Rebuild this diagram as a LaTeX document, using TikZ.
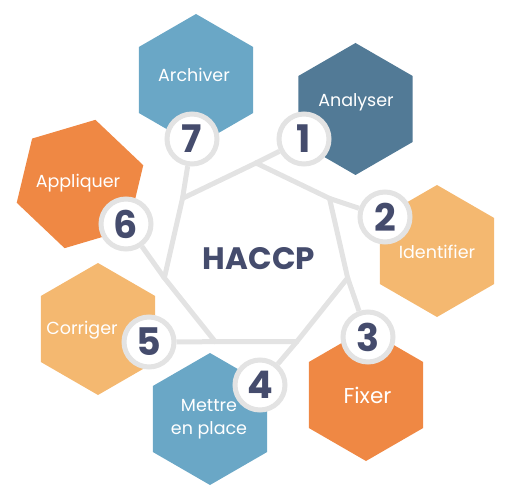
\documentclass[tikz,border=0pt]{standalone}
\usepackage{fontspec}
\setmainfont{Poppins}
\usetikzlibrary{shapes.geometric}

\definecolor{hblue}{HTML}{6AA7C6}
\definecolor{hdark}{HTML}{527A96}
\definecolor{hsand}{HTML}{F4B870}
\definecolor{horange}{HTML}{EF8844}
\definecolor{hnavy}{HTML}{454C6D}
\definecolor{hgray}{HTML}{E3E3E3}

\tikzset{
  hexa/.style={regular polygon, regular polygon sides=6, shape border rotate=30,
    minimum size=132pt, inner sep=0pt, draw=none, fill=#1},
  stepnum/.style={circle, draw=hgray, line width=5pt, fill=white,
    minimum size=50pt, inner sep=0pt, text=hnavy,
    font=\fontsize{38}{38}\selectfont\bfseries},
  lbl/.style={text=white, font=\fontsize{17.5}{23.3}\selectfont, anchor=base, align=center},
  spoke/.style={draw=hgray, line width=5pt}
}

\begin{document}
\begin{tikzpicture}[x=1pt,y=1pt]
\useasboundingbox (-256,-243) rectangle (260,257);

% hexagons
\node[hexa=hblue] at (-60,177) (hArch) {};
\node[hexa=hdark] at (99.5,148) (hAnal) {};
\node[hexa=hsand] at (181,6) (hIden) {};
\node[hexa=horange] at (110,-138) (hFix) {};
\node[hexa=hblue] at (-46,-162) (hMett) {};
\node[hexa=hsand] at (-158,-72) (hCorr) {};
\node[hexa=horange, shape border rotate=16.5] at (-176,73) (hAppl) {};

% heptagon
\foreach \i in {0,...,6}
  \coordinate (v\i) at ({90-\i*360/7}:94);
\path[spoke] (v0) -- (v1) -- (v2) -- (v3) -- (v4) -- (v5) -- (v6) -- cycle;

% numbered circles
\node[stepnum] at (48,118) (n1) {1};
\node[stepnum] at (129,40) (n2) {2};
\node[stepnum] at (112,-80) (n3) {3};
\node[stepnum] at (4,-128) (n4) {4};
\node[stepnum] at (-107,-85) (n5) {5};
\node[stepnum] at (-130,33) (n6) {6};
\node[stepnum] at (-64,118) (n7) {7};

\path[spoke] (v0) -- (n1);
\path[spoke] (v1) -- (n2);
\path[spoke] (v2) -- (n3);
\path[spoke] (v3) -- (n4);
\path[spoke] (v4) -- (n5);
\path[spoke] (v5) -- (n6);
\path[spoke] (v6) -- (n7);

% labels
\node[lbl] at (-62,175) (tArch) {Archiver};
\node[lbl] at (100,150.5) (tAnal) {Analyser};
\node[lbl] at (181,-1.3) (tIden) {Identifier};
\node[lbl, font=\fontsize{21.5}{26}\selectfont] at (111.5,-146.3) (tFix) {Fixer};
\node[lbl, anchor=center] at (-47,-162.5) (tMett) {Mettre\\en place};
\node[lbl] at (-174,-77) (tCorr) {Corriger};
\node[lbl] at (-178,69.3) (tAppl) {Appliquer};

\node[font=\fontsize{31}{31}\selectfont\bfseries, text=hnavy, anchor=base] at (3,-13) (haccp) {HACCP};

\end{tikzpicture}
\end{document}
